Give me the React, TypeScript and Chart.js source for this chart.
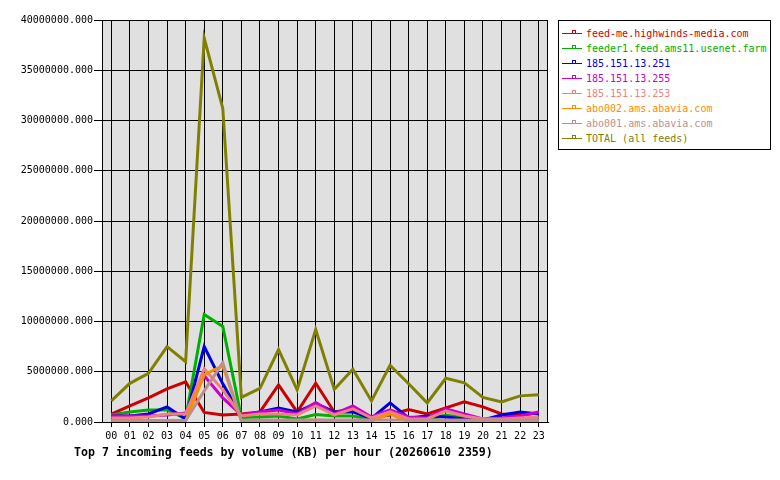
import React, { useEffect, useRef } from "react";
import { Chart, registerables } from "chart.js";

Chart.register(...registerables);

const hours = ["00","01","02","03","04","05","06","07","08","09","10","11","12","13","14","15","16","17","18","19","20","21","22","23"];

const feedMe = [0.78e6, 1.6e6, 2.4e6, 3.3e6, 4.0e6, 0.95e6, 0.7e6, 0.8e6, 1.0e6, 3.7e6, 1.0e6, 3.85e6, 1.0e6, 1.3e6, 0.4e6, 0.7e6, 1.25e6, 0.8e6, 1.4e6, 2.0e6, 1.5e6, 0.8e6, 0.7e6, 0.9e6];
const feeder1 = [0.7e6, 1.0e6, 1.2e6, 1.2e6, 0.35e6, 10.7e6, 9.5e6, 0.45e6, 0.5e6, 0.6e6, 0.3e6, 0.75e6, 0.6e6, 0.6e6, 0.25e6, 0.9e6, 0.3e6, 0.2e6, 0.7e6, 0.4e6, 0.2e6, 0.2e6, 0.2e6, 0.2e6];
const ip251 = [0.6e6, 0.6e6, 0.8e6, 1.5e6, 0.3e6, 7.5e6, 3.8e6, 0.6e6, 1.0e6, 1.4e6, 1.0e6, 1.85e6, 1.0e6, 1.0e6, 0.35e6, 1.9e6, 0.4e6, 0.6e6, 0.5e6, 0.3e6, 0.2e6, 0.7e6, 1.0e6, 0.8e6];
const ip255 = [0.6e6, 0.6e6, 0.6e6, 0.7e6, 0.9e6, 4.6e6, 2.4e6, 0.7e6, 1.0e6, 1.2e6, 0.8e6, 1.95e6, 0.8e6, 1.6e6, 0.5e6, 1.2e6, 0.5e6, 0.4e6, 1.3e6, 0.8e6, 0.3e6, 0.4e6, 0.6e6, 1.0e6];
const ip253 = [0.4e6, 0.4e6, 0.5e6, 0.8e6, 0.8e6, 5.3e6, 3.2e6, 0.6e6, 0.8e6, 0.8e6, 0.7e6, 1.6e6, 0.7e6, 1.3e6, 0.4e6, 1.0e6, 0.3e6, 0.3e6, 1.1e6, 0.6e6, 0.3e6, 0.3e6, 0.4e6, 0.5e6];
const abo002 = [0.1e6, 0.1e6, 0.1e6, 0.1e6, 0.1e6, 4.7e6, 5.6e6, 0.1e6, 0.1e6, 0.1e6, 0.1e6, 0.2e6, 0.1e6, 0.1e6, 0.1e6, 0.8e6, 0.0, 0.0, 0.1e6, 0.1e6, 0.1e6, 0.1e6, 0.1e6, 0.1e6];
const abo001 = [0.15e6, 0.15e6, 0.15e6, 0.15e6, 0.15e6, 3.1e6, 5.9e6, 0.15e6, 0.2e6, 0.2e6, 0.2e6, 0.2e6, 0.2e6, 0.2e6, 0.2e6, 0.2e6, 0.2e6, 0.2e6, 0.2e6, 0.2e6, 0.2e6, 0.2e6, 0.2e6, 0.2e6];
const total = [2.1e6, 3.85e6, 4.85e6, 7.5e6, 6.0e6, 38.2e6, 31.2e6, 2.45e6, 3.35e6, 7.2e6, 3.2e6, 9.2e6, 3.25e6, 5.25e6, 2.1e6, 5.65e6, 3.8e6, 1.9e6, 4.35e6, 3.9e6, 2.45e6, 2.0e6, 2.6e6, 2.7e6];

const seriesNames = [
  "feed-me.highwinds-media.com",
  "feeder1.feed.ams11.usenet.farm",
  "185.151.13.251",
  "185.151.13.255",
  "185.151.13.253",
  "abo002.ams.abavia.com",
  "abo001.ams.abavia.com",
  "TOTAL (all feeds)",
];
const seriesColors = ["#cc0000", "#00b000", "#0000dd", "#cc00cc", "#f08080", "#ff8c00", "#bc8f8f", "#808000"];
const seriesData = [feedMe, feeder1, ip251, ip255, ip253, abo002, abo001, total];

const titleText = "Top 7 incoming feeds by volume (KB) per hour (20260610 2359)";

const FONT = "'DejaVu Sans Mono', monospace";

const bgPlugin = {
  id: "bgPlugin",
  beforeDraw(chart: any) {
    const { ctx, chartArea } = chart;
    ctx.save();
    ctx.fillStyle = "#ffffff";
    ctx.fillRect(0, 0, chart.width, chart.height);
    ctx.fillStyle = "#e0e0e0";
    ctx.fillRect(chartArea.left, chartArea.top, chartArea.right - chartArea.left, chartArea.bottom - chartArea.top);
    ctx.restore();
  },
  afterDraw(chart: any) {
    const { ctx, chartArea } = chart;
    ctx.save();
    ctx.strokeStyle = "#000";
    ctx.lineWidth = 1;
    ctx.strokeRect(Math.round(chartArea.left) + 0.5, Math.round(chartArea.top) + 0.5, Math.round(chartArea.right - chartArea.left) - 1, Math.round(chartArea.bottom - chartArea.top));
    ctx.restore();
  },
};

export default function App() {
  const ref = useRef<HTMLCanvasElement | null>(null);

  useEffect(() => {
    if (!ref.current) return;
    const chart = new Chart(ref.current, {
      type: "line",
      data: {
        labels: hours,
        datasets: seriesData.map((d, i) => ({
          label: seriesNames[i],
          data: d,
          borderColor: seriesColors[i],
          backgroundColor: seriesColors[i],
          borderWidth: 3,
          pointRadius: 0,
          tension: 0,
          fill: false,
          order: -i,
        })),
      },
      options: {
        responsive: false,
        animation: false,
        maintainAspectRatio: false,
        layout: { padding: { left: 0, right: 232, top: 20, bottom: 0 } },
        plugins: {
          legend: { display: false },
          title: { display: false },
          tooltip: { enabled: false },
        },
        scales: {
          x: {
            type: "category",
            offset: true,
            grid: { offset: false, color: "#000", lineWidth: 1, tickLength: 5, drawTicks: true },
            border: { display: true, color: "#000" },
            ticks: { color: "#000", font: { family: FONT, size: 10 }, padding: 3, maxRotation: 0, autoSkip: false },
            afterFit: (s: any) => { s.height = 58; },
          },
          y: {
            min: 0,
            max: 40000000,
            grid: { color: "#000", lineWidth: 1, tickLength: 8, drawTicks: true },
            border: { display: true, color: "#000" },
            ticks: {
              stepSize: 5000000,
              color: "#000",
              padding: 1,
              font: { family: FONT, size: 10 },
              callback: (v: any) => Number(v).toFixed(3),
            },
            afterFit: (s: any) => { s.width = 102; },
          },
        },
      },
      plugins: [bgPlugin],
    } as any);
    return () => chart.destroy();
  }, []);

  return (
    <div style={{ position: "absolute", left: 0, top: 0, width: 780, height: 480, background: "#fff" }}>
      <canvas ref={ref} width={780} height={480} style={{ position: "absolute", left: 0, top: 0, width: 780, height: 480 }} />
      <div
        style={{
          position: "absolute",
          left: 558,
          top: 20,
          width: 211,
          height: 128,
          border: "1px solid #000",
          background: "#fff",
          fontFamily: FONT,
          fontSize: 10,
        }}
      >
        {seriesNames.map((n, i) => (
          <div key={n} style={{ position: "absolute", left: 0, top: 5 + i * 15, height: 15, width: 211 }}>
            <div style={{ position: "absolute", left: 3, top: 7, width: 20, height: 1, background: seriesColors[i] }} />
            <div style={{ position: "absolute", left: 13, top: 4, width: 2, height: 2, border: `1px solid ${seriesColors[i]}`, borderBottom: "none" }} />
            <div style={{ position: "absolute", left: 27, top: 0, lineHeight: "15px", color: seriesColors[i], whiteSpace: "nowrap" }}>{n}</div>
          </div>
        ))}
      </div>
      <div
        style={{
          position: "absolute",
          left: 74,
          top: 445,
          fontFamily: FONT,
          fontWeight: "bold",
          fontSize: 11.6,
          lineHeight: "14px",
          color: "#000",
          whiteSpace: "nowrap",
        }}
      >
        {titleText}
      </div>
    </div>
  );
}
